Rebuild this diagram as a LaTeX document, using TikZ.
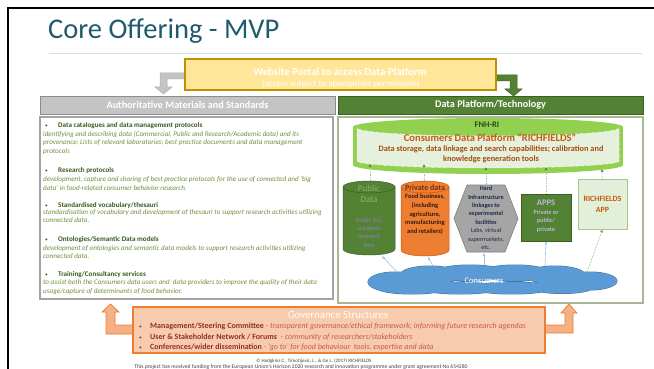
\documentclass[tikz,border=0pt]{standalone}
\usepackage{fontspec}
\setmainfont{Carlito}
\usetikzlibrary{shapes.geometric,arrows.meta}
\definecolor{titleteal}{HTML}{1F5A6E}
\definecolor{sepc}{HTML}{D5E1EA}
\definecolor{yellowf}{HTML}{FFE699}
\definecolor{gold}{HTML}{BF9000}
\definecolor{grayf}{HTML}{C4C4C4}
\definecolor{grayb}{HTML}{8C8C8C}
\definecolor{dgreen}{HTML}{548235}
\definecolor{dgreenb}{HTML}{3B5E22}
\definecolor{headgreen}{HTML}{3A5A22}
\definecolor{descgreen}{HTML}{71903F}
\definecolor{limeg}{HTML}{92D050}
\definecolor{lightg}{HTML}{E6F1DD}
\definecolor{rboxb}{HTML}{A9B796}
\definecolor{brownt}{HTML}{C55A11}
\definecolor{brownd}{HTML}{A64B12}
\definecolor{orangef}{HTML}{ED7D31}
\definecolor{oranged}{HTML}{C55A11}
\definecolor{privt}{HTML}{7B2E0F}
\definecolor{privb}{HTML}{3A1A08}
\definecolor{pubt}{HTML}{8DB360}
\definecolor{pubs}{HTML}{8E80B0}
\definecolor{hexf}{HTML}{A5A5A5}
\definecolor{hexb}{HTML}{7F7F7F}
\definecolor{navyt}{HTML}{1F2A4A}
\definecolor{appt}{HTML}{BDB5DA}
\definecolor{rappf}{HTML}{E2F0D9}
\definecolor{rappb}{HTML}{A9C68C}
\definecolor{cloudf}{HTML}{5B9BD5}
\definecolor{cloudb}{HTML}{41719C}
\definecolor{lblue}{HTML}{9DC3E6}
\definecolor{uplinec}{HTML}{A9C79A}
\definecolor{govf}{HTML}{F8CBAD}
\definecolor{govb}{HTML}{ED7D31}
\definecolor{govarrow}{HTML}{F4B183}
\definecolor{govbold}{HTML}{8E2F2F}
\definecolor{govit}{HTML}{C25A5A}
\definecolor{foot}{HTML}{404040}
\newcommand{\cloudpuffs}{%
  (395,282) ellipse[x radius=27, y radius=10]
  (430,275) ellipse[x radius=30, y radius=9]
  (470,273) ellipse[x radius=36, y radius=8]
  (515,273) ellipse[x radius=35, y radius=8]
  (555,275) ellipse[x radius=30, y radius=9]
  (590,281) ellipse[x radius=27, y radius=9]
  (562,287) ellipse[x radius=32, y radius=6.5]
  (512,288) ellipse[x radius=40, y radius=6]
  (460,288) ellipse[x radius=40, y radius=6]
  (412,288) ellipse[x radius=35, y radius=6]}
\begin{document}
\begin{tikzpicture}[x=1pt,y=-1pt,
  lhead/.style={anchor=base west, inner sep=0, text=headgreen, font=\fontsize{7.1}{8}\selectfont\bfseries},
  ldesc/.style={anchor=base west, inner sep=0, text=descgreen, font=\fontsize{7.1}{8}\selectfont\itshape},
  lbul/.style={anchor=base west, inner sep=0, text=headgreen, font=\fontsize{5.5}{6}\selectfont},
  gline/.style={anchor=base west, inner sep=0, font=\fontsize{8}{9}\selectfont},
  bar/.style={minimum width=#1, minimum height=18pt, inner sep=0, text=white, font=\fontsize{10.2}{11}\selectfont\bfseries, line width=0.8pt},
  upline/.style={draw=uplinec, densely dotted, line width=0.7pt, -{Latex[length=3pt,width=3pt,color=dgreen]}},
  cloudarrow/.style={draw=lblue, line width=0.6pt, -{Latex[length=3pt,width=3pt]}},
  item/.style={inner sep=0, align=center}
]
\useasboundingbox (0,0) rectangle (654,369);
\fill[white] (0,0) rectangle (654,369);
% slide frame
\draw[line width=2pt] (8,369) -- (8,8) -- (654,8);
% title
\node[anchor=base west, inner sep=0, text=titleteal, font=\fontsize{28.5}{32}\selectfont] (title) at (48,39) {Core Offering - MVP};
\draw[sepc, line width=1pt] (49,54) -- (642,54);

% portal arrows
\path[fill=grayf, draw=grayb!70, line width=0.5pt] (186,73) -- (160,73) -- (160,87) -- (155,87) -- (163.5,94) -- (172,87) -- (167,87) -- (167,79) -- (186,79) -- cycle;
\path[fill=dgreen, draw=dgreenb, line width=0.5pt] (495,75) -- (517,75) -- (517,89) -- (522,89) -- (513.5,96) -- (505,89) -- (510,89) -- (510,81) -- (495,81) -- cycle;
% portal
\node[draw=gold, fill=yellowf, line width=1.2pt, minimum width=311pt, minimum height=31pt, inner sep=0] (portal) at (340.5,74.5) {};
\node[inner sep=0, text=white, font=\fontsize{10.8}{12}\selectfont\bfseries] (portalt) at (340,71.5) {Website Portal to access Data Platform};
\node[inner sep=0, text=white, font=\fontsize{9}{10}\selectfont] (portals) at (341,84) {(access subject to appropriate permissions)};

% bars
\node[bar=295pt, fill=grayf, draw=grayb] (auth) at (187.5,105) {Authoritative Materials and Standards};
\node[bar=305pt, fill=dgreen, draw=dgreenb] (dpt) at (490.5,105) {Data Platform/Technology};

% boxes
\node[draw=grayb!80, line width=1.2pt, minimum width=293pt, minimum height=182pt, inner sep=0] (leftbox) at (186.5,208) {};
\node[draw=rboxb, line width=1.2pt, minimum width=305pt, minimum height=186pt, inner sep=0] (rightbox) at (490.5,210) {};

% left texts
\node[lbul] (b1) at (45,128) {•};
\node[lhead] (h1) at (58,128) {Data catalogues and data management protocols};
\node[ldesc] (d1a) at (43,136.5) {identifying and describing data (Commercial, Public and Research/Academic data) and its};
\node[ldesc] (d1b) at (43,145) {provenance; Lists of relevant laboratories; best practice documents and data management};
\node[ldesc] (d1c) at (43,153.3) {protocols};
\node[lbul] (b2) at (45,172) {•};
\node[lhead] (h2) at (58,172) {Research protocols};
\node[ldesc] (d2a) at (43,181.5) {development, capture and sharing of best practice protocols for the use of connected and ‘big};
\node[ldesc] (d2b) at (43,190) {data’ in food-related consumer behavior research.};
\node[lbul] (b3) at (45,207) {•};
\node[lhead] (h3) at (58,207) {Standardised vocabulary/thesauri};
\node[ldesc] (d3a) at (43,214.5) {standardisation of vocabulary and development of thesauri to support research activities utilizing};
\node[ldesc] (d3b) at (43,222.5) {connected data.};
\node[lbul] (b4) at (45,241) {•};
\node[lhead] (h4) at (58,241) {Ontologies/Semantic Data models};
\node[ldesc] (d4a) at (43,250) {development of ontologies and semantic data models to support research activities utilizing};
\node[ldesc] (d4b) at (43,258.3) {connected data.};
\node[lbul] (b5) at (45,276) {•};
\node[lhead] (h5) at (58,276) {Training/Consultancy services};
\node[ldesc] (d5a) at (43,284.5) {to assist both the Consumers data users and \ data providers to improve the quality of their data};
\node[ldesc] (d5b) at (43,293) {usage/capture of determinants of food behavior.};

% big cylinder
\fill[limeg] (353,127) rectangle (623,165);
\fill[limeg] (488,127) ellipse[x radius=135, y radius=9];
\fill[limeg] (488,165) ellipse[x radius=135, y radius=9];
\path[fill=lightg, draw=white!85!limeg, dashed, line width=0.5pt] (357,128) -- (357,161) arc[start angle=180, end angle=0, x radius=131, y radius=7] -- (619,128) arc[start angle=0, end angle=180, x radius=131, y radius=8] -- cycle;
\node[inner sep=0, text=headgreen!80!black, font=\fontsize{8.5}{10}\selectfont\bfseries] (fnh) at (487,125) {FNH-RI};
\node[inner sep=0, text=brownt, font=\fontsize{10.5}{12}\selectfont\bfseries] (cdp) at (490,138) {Consumers Data Platform “RICHFIELDS”};
\node[inner sep=0, text=brownd, align=center, font=\fontsize{8.3}{10}\selectfont\bfseries] (dstor) at (491,154) {Data storage, data linkage and search capabilities; calibration and\\knowledge generation tools};
\coordinate (cylB1) at (370,164);
\coordinate (cylB2) at (424,164);
\coordinate (cylB3) at (486,167);
\coordinate (cylB4) at (546,167);
\coordinate (cylB5) at (602,169);

% public data cylinder
\path[fill=dgreen, draw=dgreenb, line width=0.5pt] (343,187) -- (343,249) arc[start angle=180, end angle=0, x radius=26, y radius=6] -- (395,187) arc[start angle=0, end angle=-180, x radius=26, y radius=6] -- cycle;
\draw[dgreenb, line width=0.5pt] (343,187) arc[start angle=180, end angle=0, x radius=26, y radius=6];
\node[item, text=pubt, font=\fontsize{9}{11}\selectfont] (pubt) at (369,194) {Public\\Data};
\node[item, text=pubs, font=\fontsize{6.3}{8.4}\selectfont] (pubs) at (369,232.5) {Public RIs,\\academic\\research\\data};
\coordinate (pubT) at (370,181);
\coordinate (pubB) at (382,256);

% private data cylinder
\path[fill=orangef, draw=oranged, line width=0.5pt] (401,187) -- (401,250) arc[start angle=180, end angle=0, x radius=24, y radius=6] -- (449,187) arc[start angle=0, end angle=-180, x radius=24, y radius=6] -- cycle;
\draw[oranged, line width=0.5pt] (401,187) arc[start angle=180, end angle=0, x radius=24, y radius=6];
\node[inner sep=0, text=privt, font=\fontsize{8}{9}\selectfont\bfseries] (privt) at (425,188) {Private data};
\node[item, text=privb, font=\fontsize{6.5}{8.7}\selectfont\bfseries] (privs) at (425,214.5) {Food business,\\(including\\agriculture,\\manufacturing\\and retailers)};
\coordinate (privT) at (424,181);
\coordinate (privB) at (428,257);

% hexagon
\path[fill=hexf, draw=hexb, line width=0.6pt] (454,218.5) -- (467,185) -- (505,185) -- (518,218.5) -- (505,252) -- (467,252) -- cycle;
\node[item, text=navyt, font=\fontsize{6.2}{8.4}\selectfont] (hext) at (486,218) {\bfseries Hard\\\bfseries Infrastructure\\\bfseries linkages to\\\bfseries experimental\\\bfseries facilities\\Labs, virtual\\supermarkets,\\etc.};
\coordinate (hexT) at (486,185);
\coordinate (hexB) at (484,253);

% APPS
\node[fill=dgreen, draw=dgreenb, line width=0.6pt, minimum width=50pt, minimum height=47pt, inner sep=0] (apps) at (546,217.5) {};
\node[item, text=appt, font=\fontsize{8.5}{9}\selectfont\bfseries] (appst) at (546,203) {APPS};
\node[item, text=appt, font=\fontsize{6.2}{8.4}\selectfont\bfseries] (appss) at (546,221) {Private or\\public/\\private};

% RICHFIELDS APP
\node[fill=rappf, draw=rappb, line width=0.8pt, minimum width=49pt, minimum height=50pt, inner sep=0, text=brownt, align=center, font=\fontsize{8}{11}\selectfont\bfseries] (rapp) at (602.5,204) {RICHFIELDS\\APP};

% cloud
\draw[cloudb, line width=1pt] \cloudpuffs;
\fill[cloudf] \cloudpuffs;
\node[inner sep=0, text=white, font=\fontsize{8.6}{10}\selectfont] (cons) at (484,281) {Consumers};
\coordinate (c1) at (397,272);
\coordinate (c2) at (433,266);
\coordinate (c3) at (484,265);
\coordinate (c4) at (545,266);
\coordinate (c5) at (587,272);

% cloud arrows
\draw[cloudarrow] (c1) -- (pubB);
\draw[cloudarrow] (c2) -- (privB);
\draw[cloudarrow] (c3) -- (hexB);
\draw[cloudarrow] (c4) -- (apps.south);
\draw[cloudarrow, draw=limeg!80!black, densely dotted] (c5) -- (rapp.south);

% up arrows
\draw[upline] (pubT) -- (cylB1);
\draw[upline] (privT) -- (cylB2);
\draw[upline] (hexT) -- (cylB3);
\draw[upline] (apps.north) -- (cylB4);
\draw[upline] (rapp.north) -- (cylB5);

% governance arrows
\path[fill=govarrow, draw=govb, line width=0.7pt] (134,325) -- (115,325) -- (115,312) -- (119,312) -- (110.5,304) -- (102,312) -- (106,312) -- (106,334) -- (134,334) -- cycle;
\path[fill=govarrow, draw=govb, line width=0.7pt] (544,325) -- (565,325) -- (565,313) -- (561,313) -- (569,304) -- (577,313) -- (573,313) -- (573,333) -- (544,333) -- cycle;
% governance box
\node[fill=govf, draw=govb, line width=1.5pt, minimum width=412pt, minimum height=46pt, inner sep=0] (gov) at (339,330) {};
\node[inner sep=0, text=white, font=\fontsize{10.8}{12}\selectfont] (govt) at (338,315) {Governance Structures};
\node[gline, text=govbold, font=\fontsize{5.5}{6}\selectfont] (gb1) at (139,328) {•};
\node[gline] (g1) at (150,328) {\textcolor{govbold}{\bfseries Management/Steering Committee} \textcolor{govit}{\itshape - transparent governance/ethical framework; informing future research agendas}};
\node[gline, text=govbold, font=\fontsize{5.5}{6}\selectfont] (gb2) at (139,339) {•};
\node[gline] (g2) at (150,339) {\textcolor{govbold}{\bfseries User \& Stakeholder Network / Forums} \ \textcolor{govit}{\itshape - community of researchers/stakeholders}};
\node[gline, text=govbold, font=\fontsize{5.5}{6}\selectfont] (gb3) at (139,349) {•};
\node[gline] (g3) at (150,349) {\textcolor{govbold}{\bfseries Conferences/wider dissemination} \textcolor{govit}{\itshape - ‘go to’ for food behaviour \ tools, expertise and data}};

% footer
\node[inner sep=0, text=foot, font=\fontsize{5}{6}\selectfont] (f1) at (314,361) {© Hodgkins C., Timotijevic, L., \& Ge L. (2017) RICHFIELDS};
\node[inner sep=0, text=foot, font=\fontsize{5.6}{6}\selectfont] (f2) at (301,367) {This project has received funding from the European Union’s Horizon 2020 research and innovation programme under grant agreement No 654280};
\end{tikzpicture}
\end{document}
